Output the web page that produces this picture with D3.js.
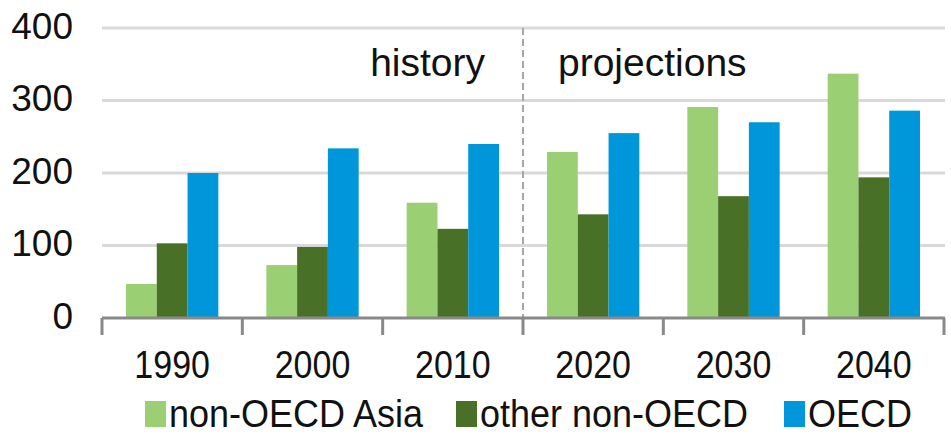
<!DOCTYPE html>
<html>
<head>
<meta charset="utf-8">
<script src="https://cdn.jsdelivr.net/npm/d3@7"></script>
<style>
  body { margin: 0; background: #fff; }
  svg text { font-family: "Liberation Sans", Arial, sans-serif; fill: #111; }
</style>
</head>
<body>
<div id="chart"></div>
<script>
var years = ["1990", "2000", "2010", "2020", "2030", "2040"];
var seriesNames = ["non-OECD Asia", "other non-OECD", "OECD"];
var asiaValues = [47, 73, 159, 229, 291, 337];
var otherValues = [103, 98, 123, 143, 168, 194];
var oecdValues = [200, 234, 240, 255, 270, 286];
var yTicks = [0, 100, 200, 300, 400];
var colors = ["#9bcf73", "#487027", "#0096da"];

var width = 951, height = 438;

var svg = d3.select("#chart").append("svg")
    .attr("width", width)
    .attr("height", height);

// x: one band per decade, then three bars inside
var x0 = d3.scaleBand().domain(years).range([102, 944]).padding(0);
var x1 = d3.scaleBand().domain(seriesNames)
    .range([0, x0.bandwidth()])
    .paddingInner(0)
    .paddingOuter(0.78);
var y = d3.scaleLinear().domain([0, 400]).range([318, 28]);

var rows = years.map(function(yr, i) {
  return { year: yr, vals: [asiaValues[i], otherValues[i], oecdValues[i]] };
});

// gridlines
svg.append("g")
  .selectAll("line")
  .data(yTicks.filter(function(d) { return d > 0; }))
  .enter().append("line")
  .attr("x1", 102)
  .attr("x2", 945)
  .attr("y1", function(d) { return y(d); })
  .attr("y2", function(d) { return y(d); })
  .attr("stroke", "#d9d9d9")
  .attr("stroke-width", 3);

// y labels
svg.append("g")
  .selectAll("text")
  .data(yTicks)
  .enter().append("text")
  .attr("x", 73)
  .attr("y", function(d) { return y(d) - 2; })
  .attr("dy", "0.35em")
  .attr("text-anchor", "end")
  .attr("font-size", "37px")
  .text(function(d) { return d; });

// history / projections divider
var divX = x0("2020");
svg.append("line")
  .attr("x1", divX).attr("x2", divX)
  .attr("y1", y(400)).attr("y2", 335)
  .attr("stroke", "#a6a6a6")
  .attr("stroke-width", 2)
  .style("stroke-dasharray", "7, 4");

svg.append("text")
  .attr("x", divX - 38)
  .attr("y", 76)
  .attr("text-anchor", "end")
  .attr("font-size", "39px")
  .text("history");

svg.append("text")
  .attr("x", divX + 35)
  .attr("y", 76)
  .attr("font-size", "39px")
  .text("projections");

// bars
var groups = svg.append("g")
  .selectAll("g")
  .data(rows)
  .enter().append("g")
  .attr("transform", function(d) { return "translate(" + x0(d.year) + ",0)"; });

groups.selectAll("rect")
  .data(function(d) { return d.vals.map(function(v, i) { return { name: seriesNames[i], v: v, i: i }; }); })
  .enter().append("rect")
  .attr("x", function(d) { return x1(d.name); })
  .attr("width", x1.bandwidth())
  .attr("y", function(d) { return y(d.v); })
  .attr("height", function(d) { return y(0) - y(d.v); })
  .attr("fill", function(d) { return colors[d.i]; });

// x axis line + ticks at the band edges
svg.append("line")
  .attr("x1", 102).attr("x2", 945)
  .attr("y1", y(0)).attr("y2", y(0))
  .attr("stroke", "#898989")
  .attr("stroke-width", 3);

var edges = years.map(function(d) { return x0(d); }).concat([x0.range()[1]]);
svg.append("g")
  .selectAll("line")
  .data(edges)
  .enter().append("line")
  .attr("x1", function(d) { return d; })
  .attr("x2", function(d) { return d; })
  .attr("y1", y(0))
  .attr("y2", 335)
  .attr("stroke", "#898989")
  .attr("stroke-width", 3);

// x labels (slightly stretched vertically like the source)
svg.append("g")
  .selectAll("text")
  .data(years)
  .enter().append("text")
  .attr("transform", function(d) {
    return "translate(" + (x0(d) + x0.bandwidth() / 2) + ",378) scale(1,1.15)";
  })
  .attr("text-anchor", "middle")
  .attr("font-size", "34px")
  .text(function(d) { return d; });

// legend
var legendX = [145, 456, 784];
var legend = svg.append("g")
  .selectAll("g")
  .data(seriesNames)
  .enter().append("g")
  .attr("transform", function(d, i) { return "translate(" + legendX[i] + ",0)"; });

legend.append("rect")
  .attr("x", 0)
  .attr("y", 401)
  .attr("width", 21)
  .attr("height", 26)
  .attr("fill", function(d, i) { return colors[i]; });

legend.append("text")
  .attr("transform", "translate(24,427) scale(1,1.08)")
  .attr("font-size", "36px")
  .text(function(d) { return d; });
</script>
</body>
</html>
